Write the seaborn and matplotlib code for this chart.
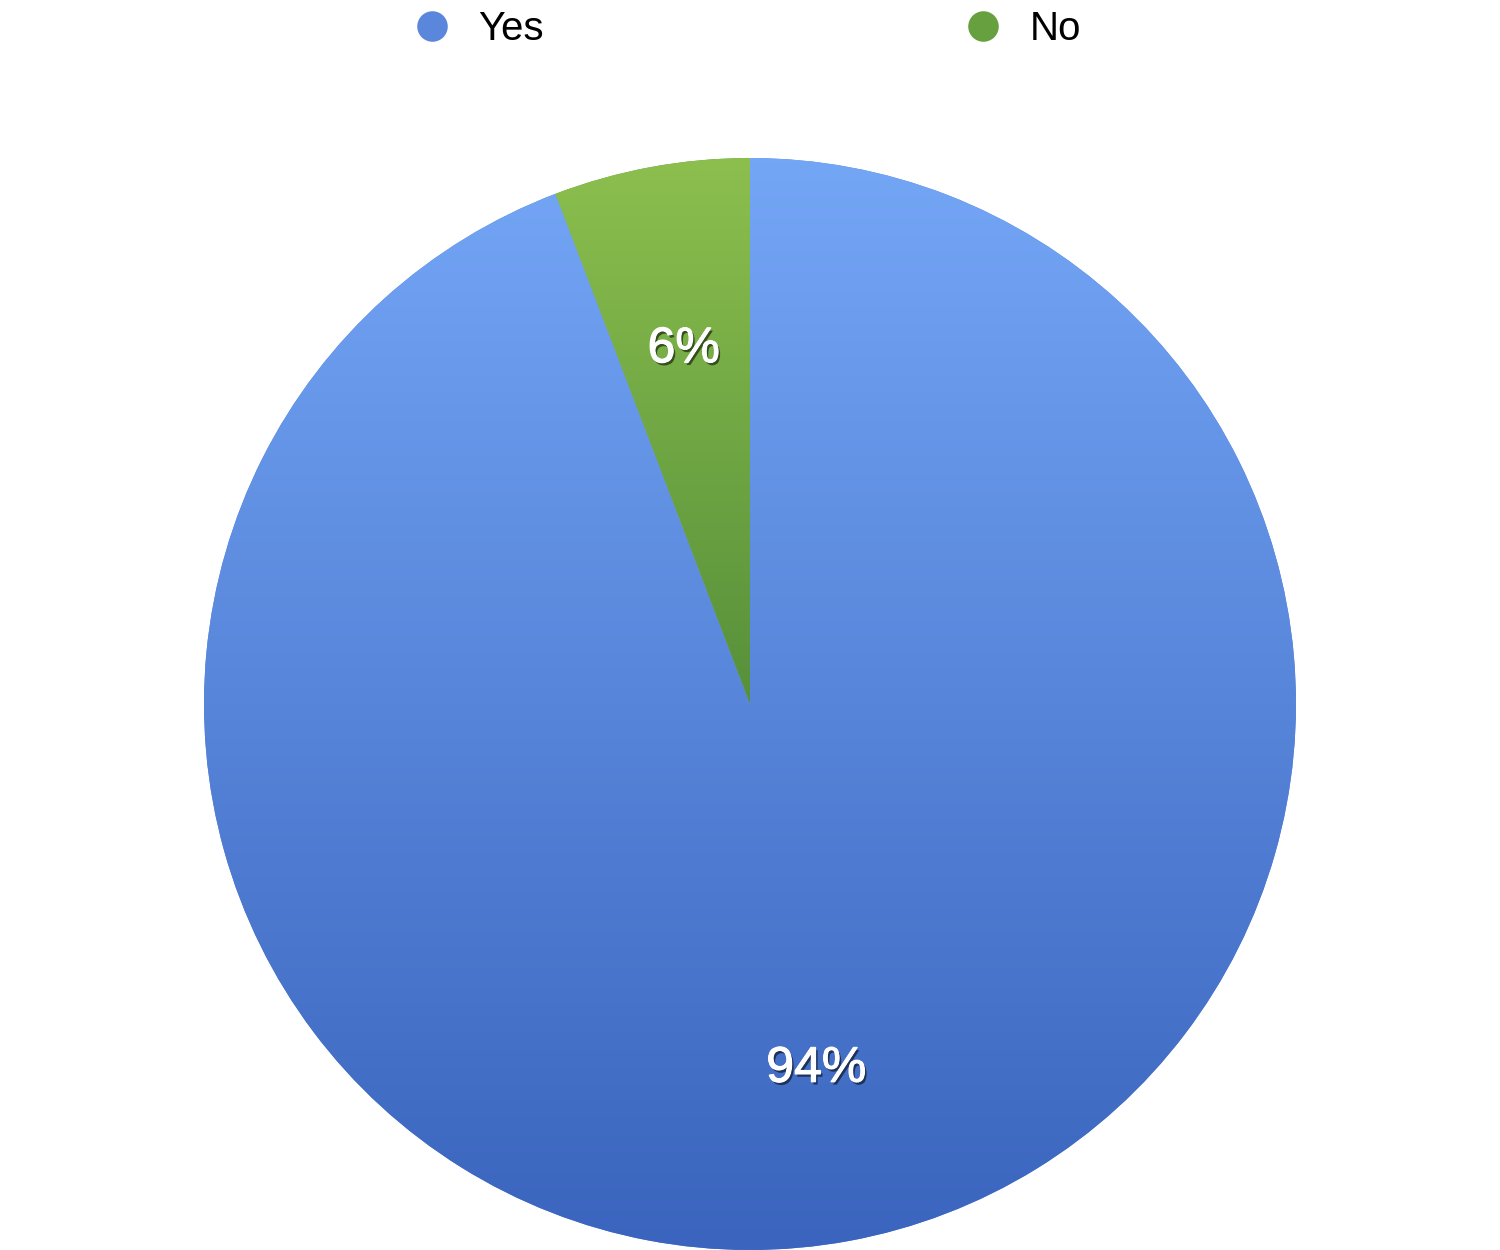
import numpy as np
import matplotlib
matplotlib.use("Agg")
import matplotlib.pyplot as plt
import matplotlib.patheffects as pe
from matplotlib.colors import LinearSegmentedColormap
from matplotlib.lines import Line2D
import seaborn as sns

# Data
labels = ["Yes", "No"]
shares = [94.2, 5.8]
top_colors = ["#74a6f6", "#8cbf4e"]
bottom_colors = ["#3a64bd", "#56903a"]
legend_colors = ["#5a87dc", "#66a03f"]

sns.set_theme(style="white")
plt.rcParams["font.family"] = ["Liberation Sans", "DejaVu Sans"]

fig = plt.figure(figsize=(15, 12.5), dpi=100)
ax = fig.add_axes([204 / 1500, 0, 1092 / 1500, 1092 / 1250])

wedges, texts, autotexts = ax.pie(
    shares, startangle=90, counterclock=False, colors=legend_colors,
    autopct="%.0f%%", pctdistance=0.67,
    textprops=dict(color="white", fontsize=36),
    wedgeprops=dict(linewidth=0),
)
ax.set_xlim(-1, 1)
ax.set_ylim(-1, 1)
ax.set_aspect("equal")
ax.axis("off")

# vertical gradient fill, clipped to each wedge
grad = np.linspace(1, 0, 256).reshape(-1, 1)
for w, c_top, c_bot in zip(wedges, top_colors, bottom_colors):
    cmap = LinearSegmentedColormap.from_list("g", [c_bot, c_top])
    y0 = -1 if w.theta2 - w.theta1 > 180 else 0
    im = ax.imshow(grad, cmap=cmap, extent=(-1, 1, y0, 1), aspect="auto",
                   origin="upper", zorder=2, vmin=0, vmax=1)
    im.set_clip_path(w)

for t in autotexts:
    t.set_zorder(5)
    t.set_va("center_baseline")
    t.set_path_effects([
        pe.withSimplePatchShadow(offset=(1.5, -2), shadow_rgbFace="black", alpha=0.55),
        pe.Stroke(linewidth=0.8, foreground="white"),
        pe.Normal(),
    ])

handles = [Line2D([], [], marker="o", linestyle="", markersize=22,
                  markerfacecolor=c, markeredgewidth=0) for c in legend_colors]
leg = fig.legend(handles, labels, loc="center", bbox_to_anchor=(0.499, 1 - 29 / 1250),
                 ncol=2, frameon=False, fontsize=29, handlelength=0.8,
                 handletextpad=0.75, columnspacing=10.5, borderaxespad=0)
for t in leg.get_texts():
    t.set_color("black")

fig.savefig("out.png", dpi=100)
